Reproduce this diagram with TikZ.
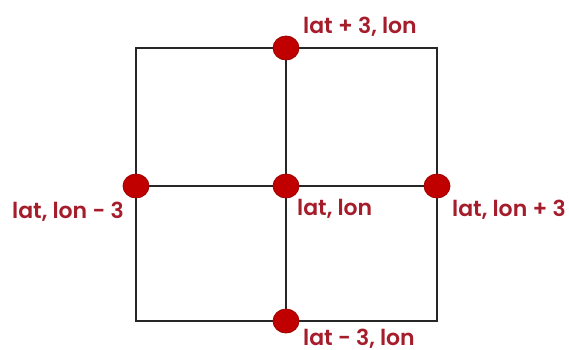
\documentclass[tikz,border=0pt]{standalone}
\usepackage{fontspec}
\setmainfont{Poppins}[UprightFont=*-Medium,BoldFont=*-SemiBold]
\usetikzlibrary{positioning,shapes.geometric,backgrounds}
\definecolor{gridred}{HTML}{C00000}
\definecolor{gridredline}{HTML}{9E0000}
\definecolor{gridlabel}{HTML}{A51D2B}

\begin{document}
\begin{tikzpicture}[
  x=1pt, y=-1pt,
  font=\fontsize{22}{26}\selectfont\bfseries,
  grid/.style={line width=2.6pt, black!85},
  pt/.style={ellipse, fill=gridred, draw=gridredline, line width=0.8pt,
             minimum width=26pt, minimum height=24pt, inner sep=0pt},
  lab/.style={text=gridlabel, inner sep=0pt, anchor=base west}
]
\useasboundingbox (0,0) rectangle (569,349);
% ================= sample points =================
\node[pt] (c) at (286,186) {};
\node[pt] (n) at (286,48)  {};
\node[pt] (s) at (286,321) {};
\node[pt] (w) at (136,186) {};
\node[pt] (e) at (437,186) {};
% ================= grid square and cross, behind the points =================
\begin{pgfonlayer}{background}
\coordinate (nw) at (w.center |- n.center);
\coordinate (se) at (e.center |- s.center);
\draw[grid] (nw) rectangle (se);
\draw[grid] (n.center) -- (s.center);
\draw[grid] (w.center) -- (e.center);
\end{pgfonlayer}
% ================= labels =================
\node[lab] (nlab) at ([xshift=17pt,yshift=15pt]n.center) {lat + 3, lon};
\node[lab] (clab) at ([xshift=11pt,yshift=-29pt]c.center) {lat, lon};
\node[lab] (wlab) at ([xshift=-124pt,yshift=-32pt]w.center) {lat, lon - 3};
\node[lab] (elab) at ([xshift=15pt,yshift=-30pt]e.center) {lat, lon + 3};
\node[lab] (slab) at ([xshift=17pt,yshift=-24pt]s.center) {lat - 3, lon};
\end{tikzpicture}
\end{document}
